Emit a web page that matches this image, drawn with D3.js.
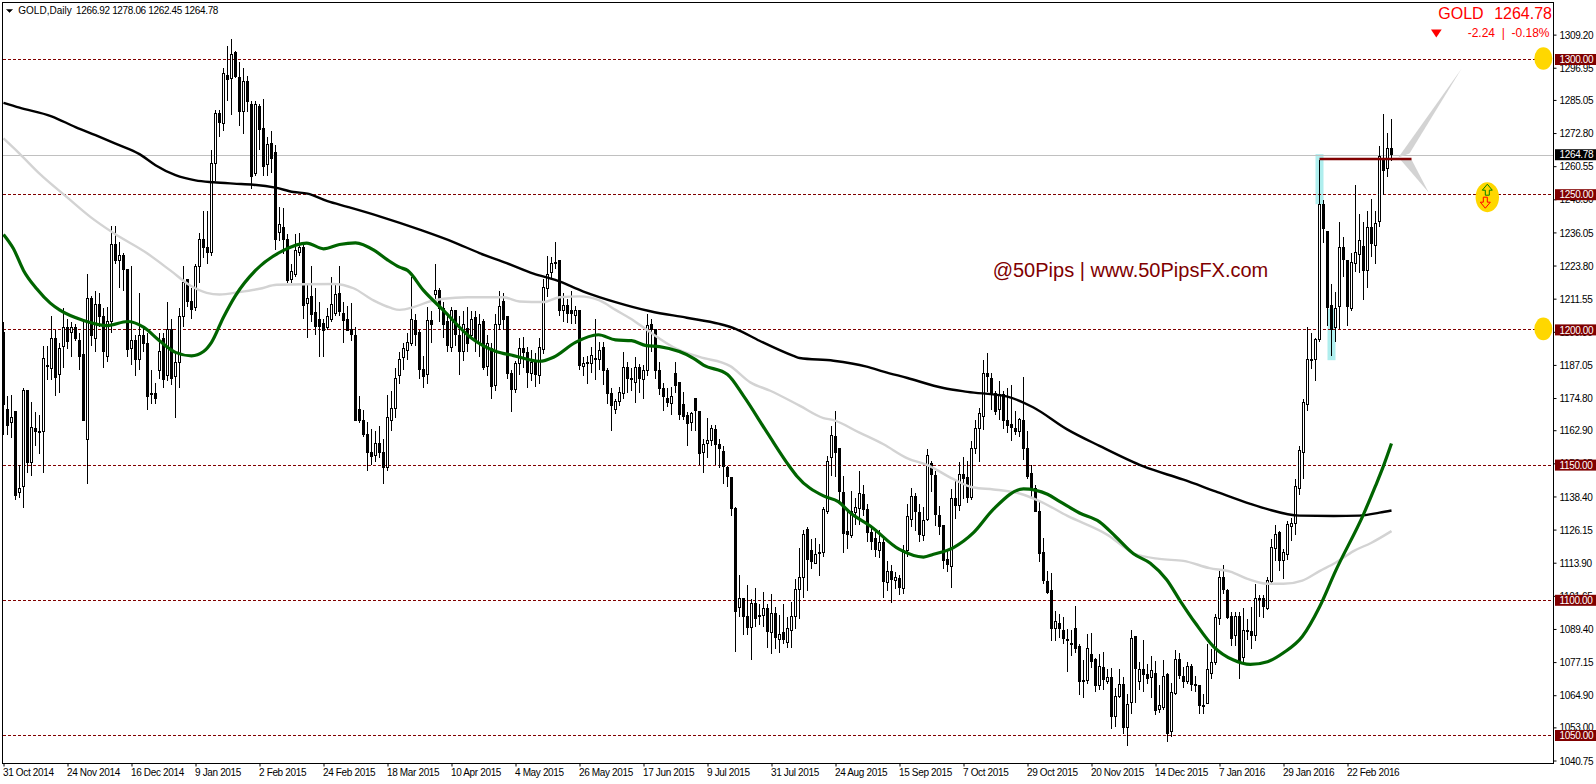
<!DOCTYPE html>
<html><head><meta charset="utf-8">
<script src="https://cdn.jsdelivr.net/npm/d3@7"></script>
<style>
html,body{margin:0;padding:0;background:#fff}
svg{display:block}
text{font-family:"Liberation Sans",Arial,sans-serif}
.axis text{font-size:10px;letter-spacing:-.35px;fill:#000}
</style></head><body><div id="chart"></div>
<script>
const opens=[1199,1170.5,1165.5,1170,1140,1142,1177.5,1151,1163.5,1162.5,
1162.5,1187,1186,1197,1183.5,1194,1201,1199,1201,1196,
1191,1159.5,1211.5,1197,1209.5,1205,1190,1203,1231.5,1225.5,
1227.5,1222.5,1193,1196,1189,1198,1195,1176.5,1176.5,1185,
1197,1183,1200,1183,1188,1205,1218.5,1210.5,1208.5,1223.5,
1233.5,1230.5,1228.5,1261.5,1280,1276.5,1294,1293,1302.5,1293.5,
1281,1292,1283.5,1258,1282.5,1274.5,1261,1269,1265.5,1236,
1238,1233.5,1218.5,1220.5,1228.5,1230.5,1209.5,1212.5,1206.5,1204,
1202.5,1201,1204,1206,1213.5,1206,1204,1200,1198,1170.5,
1166.5,1161.5,1154.5,1153.5,1158,1154.5,1149,1166.5,1171,1183,
1189.5,1192.5,1195,1203.5,1199,1185.5,1183.5,1203.5,1213,1214.5,
1208,1203,1193.5,1207,1198,1192,1200.5,1198,1204.5,1195,
1203,1186.5,1193,1179.5,1202,1210.5,1205,1184,1178,1187.5,
1193,1191.5,1184,1188.5,1183,1192.5,1215.5,1221,1224.5,1225.5,
1207,1209,1207,1205,1207,1186.5,1187.5,1187.5,1189,1189,
1193.5,1185,1176.5,1170.5,1173.5,1176.5,1186,1182,1180.5,1186,
1181.5,1185,1202,1200,1185,1178.5,1174.5,1173,1184,1180.5,
1172.5,1168.5,1165.5,1174.5,1170,1154.5,1158,1159,1163,1157.5,
1155,1149,1145.5,1134,1097,1100.5,1094,1090,1099,1094.5,
1094.5,1097,1088,1095,1085.5,1088,1084.5,1089,1094,1104,
1108.5,1126,1118.5,1113.5,1117.5,1117.5,1133,1153,1160.5,1156,
1140,1125.5,1124,1132.5,1134,1139,1133.5,1125,1123,1118.5,
1121.5,1106.5,1110.5,1107.5,1108,1104.5,1118.5,1130,1138.5,1132.5,
1124,1130,1150.5,1146,1131.5,1127.5,1115,1112.5,1137.5,1135,
1146.5,1145.5,1138,1156,1163.5,1168,1184,1182,1176.5,1170.5,
1176,1166.5,1165,1163.5,1162.5,1166.5,1156,1147,1141.5,1133,
1117.5,1107,1103.5,1089.5,1091.5,1089,1085.5,1084,1089.5,1083,
1070.5,1070,1080,1078,1068.5,1075,1070,1071.5,1057,1064.5,
1069,1053,1062.5,1086.5,1070,1074.5,1072.5,1071.5,1073,1059.5,
1060.5,1072.5,1051.5,1065.5,1078,1072,1070,1075.5,1068.5,1068.5,
1061,1062,1073,1077,1093.5,1108.5,1103.5,1094,1087,1094,
1079,1089,1088.5,1087,1100.5,1100.5,1097,1107,1119.5,1125,
1114.5,1117,1127.5,1128.5,1141.5,1154.5,1172.5,1188.5,1189,1196.5,
1246.5,1236.5,1209,1201,1208.5,1230.5,1225.5,1208,1224.5,1228,
1231,1222,1238,1231.5,1240,1263,1259.5,1266.92];
const highs=[1203,1175.5,1176,1170,1150,1178.5,1177.5,1173.5,1169.5,1168.5,
1194,1194,1205,1200,1195,1208,1204,1203,1202,1199,
1204,1220.5,1212.5,1214.5,1213.5,1208,1208.5,1238.5,1238.5,1232.5,
1228.5,1222.5,1223.5,1198,1213.5,1201,1199,1185,1180.5,1199,
1199,1210.5,1204,1191,1208,1223.5,1218.5,1215.5,1224.5,1236,
1244,1244,1266.5,1281.5,1281.5,1297,1305,1307.5,1303,1299,
1297,1294,1284.5,1284.5,1283.5,1285.5,1271.5,1273.5,1268.5,1245.5,
1245,1235.5,1224.5,1235.5,1236,1232.5,1216.5,1223.5,1215.5,1210.5,
1204,1208,1219.5,1217,1223.5,1210.5,1209,1210,1201,1175.5,
1170.5,1166,1163.5,1162.5,1164.5,1159.5,1176,1177.5,1186,1192,
1195,1199,1219.5,1206,1200,1190.5,1208.5,1207,1224.5,1215.5,
1210.5,1206,1208.5,1207.5,1205,1207,1208.5,1207,1207,1206,
1204,1198,1195,1206,1214.5,1213.5,1205,1185,1188.5,1197,
1197.5,1193.5,1192.5,1191.5,1197,1219,1227.5,1227,1232.5,1225.5,
1213.5,1211.5,1214.5,1209,1207,1190,1190.5,1193.5,1204,1195.5,
1195.5,1186,1178.5,1174.5,1179,1192,1188,1186,1190,1187.5,
1187,1206,1204,1200,1188,1180.5,1178.5,1179,1188,1180.5,
1177,1169.5,1169.5,1175,1170,1159.5,1167.5,1165,1165,1159.5,
1157,1149.5,1145.5,1134.5,1109.5,1101,1105.5,1100.5,1104.5,1098.5,
1103,1098.5,1102.5,1097.5,1094.5,1098.5,1094,1099.5,1108,1119.5,
1126,1127,1122.5,1123,1121,1134.5,1153.5,1164.5,1170,1156.5,
1146,1132.5,1140.5,1138,1148,1142.5,1135.5,1127.5,1126,1126,
1123,1114.5,1113,1110.5,1109.5,1120.5,1135.5,1141.5,1139.5,1135.5,
1134.5,1156,1151.5,1148,1135,1128,1118.5,1141,1145,1151,
1153,1151.5,1159,1166.5,1171,1189,1191.5,1184,1177.5,1181,
1177.5,1178.5,1179.5,1170,1167.5,1182.5,1162.5,1150,1142.5,1137,
1123,1111,1110,1096,1095,1094,1089.5,1089,1098,1084,
1078,1087.5,1088,1078.5,1080,1081,1074.5,1075,1067.5,1074.5,
1071.5,1065.5,1089,1086.5,1077,1085.5,1076.5,1079.5,1077.5,1068.5,
1078,1073,1069.5,1081.5,1080.5,1075.5,1077,1076.5,1072,1068.5,
1065.5,1084,1082,1095,1111,1113,1104,1095.5,1095.5,1095.5,
1097,1093,1097.5,1106,1102,1102,1108.5,1122.5,1128,1125.5,
1119,1129.5,1130.5,1145,1157,1174.5,1201,1199,1197,1263,
1248,1236.5,1217,1214,1240,1234.5,1226,1228.5,1253.5,1243,
1240,1244,1248.5,1244,1268,1280,1273,1278.06];
const lows=[1161,1161,1160,1137,1138,1134,1147,1146,1157,1154,
1147,1181.5,1181.5,1175.5,1176.5,1186,1193,1190,1196,1185,
1166.5,1143,1194,1192,1201,1186,1188,1199,1224.5,1215.5,
1214.5,1190,1187,1183,1185,1192,1170.5,1172.5,1172.5,1182,
1178.5,1181,1179.5,1167.5,1178.5,1201,1208.5,1204,1207,1217.5,
1226.5,1224.5,1227.5,1255,1271.5,1273.5,1284.5,1279.5,1293,1275.5,
1272.5,1280.5,1252,1257,1266.5,1257,1257,1258,1229.5,1233,
1228,1217.5,1217.5,1219.5,1227.5,1204,1197,1203,1198,1190,
1190,1200,1203,1205,1205,1195,1200,1196,1166.5,1165.5,
1160.5,1148,1150,1151,1152.5,1143,1148,1162.5,1167.5,1180,
1185,1189,1194,1194,1182,1178.5,1180,1195,1209.5,1203,
1197,1192,1192,1194,1183.5,1188.5,1192,1197,1192,1190,
1185,1183,1174.5,1177.5,1200,1200,1182,1169.5,1176.5,1183.5,
1186,1178.5,1181,1179,1180,1191,1212,1218.5,1222.5,1205,
1203,1202.5,1202,1202,1185,1183,1180,1184,1181.5,1185,
1179.5,1172.5,1162.5,1169,1172,1174.5,1176.5,1177.5,1173,1176.5,
1174.5,1183,1192,1182,1176,1170,1171.5,1168.5,1176.5,1166.5,
1166.5,1157,1162.5,1162.5,1150,1147,1152.5,1157,1150,1149,
1143,1142,1131,1081,1094,1087,1087,1078,1090,1091,
1090,1082.5,1080,1082,1080.5,1084,1082.5,1082.5,1089.5,1093,
1101,1103.5,1111.5,1113.5,1109,1116,1132,1146,1145.5,1136,
1117.5,1119,1123,1128,1128,1131,1121.5,1118.5,1116,1115.5,
1101,1103.5,1099,1104,1102,1102.5,1116,1127,1125.5,1121.5,
1122,1129.5,1140,1127.5,1124,1111.5,1110.5,1104.5,1130,1133,
1137.5,1136,1137,1154,1151,1163,1177,1170.5,1168.5,1166.5,
1163.5,1162,1159,1161,1160.5,1152,1145,1138,1132.5,1114,
1106,1102.5,1085,1085,1086,1084,1073.5,1079.5,1080.5,1065,
1064,1069,1075,1066,1067,1067,1069,1052.5,1053,1064,
1050.5,1046,1058,1062,1067,1066,1069,1064,1057.5,1058.5,
1059.5,1047.5,1049.5,1065,1071,1067.5,1069,1066.5,1066,1058,
1058,1062,1071,1076,1091,1102.5,1093,1083,1083,1071,
1076,1085.5,1082,1085,1094,1093.5,1096.5,1106.5,1114.5,1111,
1108,1115,1122,1124,1139,1145,1170,1185.5,1181,1195.5,
1232,1201.5,1190.5,1195.5,1200.5,1219.5,1201.5,1207,1221.5,1221,
1211,1215.5,1227,1224.5,1238,1250,1256.5,1262.45];
const closes=[1172.5,1164.5,1167.5,1139,1141.5,1177.5,1151,1164,1162.5,1162.5,
1189.5,1186.5,1197,1182.5,1193,1201,1196,1201,1197,1190,
1166.5,1211.5,1198,1209.5,1205,1192,1203,1231.5,1225.5,1227.5,
1222.5,1193,1196,1189,1198,1195,1175.5,1176.5,1174.5,1192,
1182,1200,1182,1188,1205,1217.5,1210.5,1207.5,1223.5,1233.5,
1230.5,1228.5,1261.5,1280,1276.5,1295,1292.5,1302,1293.5,1281,
1292,1284.5,1257,1283.5,1274,1260.5,1268.5,1263.5,1233.5,1239,
1233.5,1218.5,1221.5,1229.5,1230.5,1209,1211.5,1206,1201.5,1201.5,
1200,1205,1209.5,1213,1207,1203.5,1200,1198,1166.5,1166.5,
1161.5,1155,1153,1158,1154.5,1149,1167.5,1171,1182,1189,
1193,1195.5,1204,1198.5,1185.5,1183,1203.5,1202,1214.5,1208,
1202,1194,1207,1198,1192,1202,1195,1204,1196,1202,
1186,1195,1179,1202,1208.5,1204,1184,1178,1187.5,1193,
1191.5,1184,1188,1183.5,1193.5,1215.5,1220.5,1224.5,1225,1207,
1209,1206,1206,1207,1186.5,1187.5,1188,1190.5,1189.5,1192.5,
1185,1176.5,1172,1173.5,1177,1186,1182,1181.5,1186,1182,
1185,1201.5,1200,1185,1178.5,1175.5,1173,1175.5,1179.5,1168.5,
1168,1165.5,1169,1170,1154.5,1157.5,1159,1163.5,1157.5,1156,
1149.5,1145.5,1134,1096,1100.5,1094,1090,1099,1093.5,1094.5,
1097,1088.5,1095,1086,1087.5,1085.5,1089.5,1094,1104,1108.5,
1124.5,1115,1114.5,1117,1117.5,1133.5,1151.5,1161,1154.5,1140,
1125,1124.5,1133,1134.5,1139.5,1133.5,1125,1121.5,1119,1121.5,
1107,1110.5,1107.5,1108.5,1104.5,1118.5,1131,1138.5,1133,1124.5,
1129.5,1153.5,1146.5,1131.5,1127.5,1114.5,1113,1137.5,1135,1146.5,
1145,1138,1156,1163.5,1169,1184,1183,1176.5,1170,1176,
1166.5,1164.5,1164,1162.5,1167,1156,1145.5,1141.5,1133,1117.5,
1107,1103,1089.5,1092,1089.5,1086,1085,1084,1082,1070,
1070,1082,1077.5,1068.5,1075.5,1070.5,1071.5,1057,1064.5,1069,
1053,1061.5,1086,1074.5,1074.5,1072.5,1071,1074,1059.5,1061,
1072,1050.5,1066,1078,1072,1070,1075.5,1069,1069,1061,
1060.5,1074.5,1077,1093.5,1108.5,1104,1093.5,1086,1094,1077.5,
1089,1089,1087,1100.5,1100,1097.5,1107.5,1119.5,1124.5,1114.5,
1117.5,1128,1128.5,1142,1155.5,1173,1189,1189,1196.5,1246.5,
1237.5,1208.5,1200,1208,1230.5,1226,1208.5,1225,1228.5,1233,
1222,1238,1232,1239.5,1264,1259,1267,1264.78];

const black200Bars=[0,4,12,18,23,28,34,38,43,48,52.5,57.5,62.5,68,72.5,76,81,86,94,104.6,112.5,119,125.8,132.5,138.3,145,153,161.7,170.8,179,183,189,197.5,199,207.5,215.8,220,226,235,241,251,257.5,265.8,274,285,295,303,311.7,316,324,332.5,339,344,347];
const black200=[1284,1282.2,1279,1275,1272,1268.9,1265,1260.9,1257.2,1255.3,1254.6,1254.1,1253.7,1252.6,1251,1250.4,1247.6,1245.5,1242,1236.8,1232.5,1228.4,1224.7,1220.8,1218.3,1214.2,1210.3,1206.9,1204.5,1202.2,1200.4,1196,1190.4,1189.6,1188.6,1186.4,1184.6,1182.2,1178.5,1177.1,1175.3,1171.3,1163.3,1157.1,1149.5,1144.6,1140.3,1135.7,1133.7,1131.3,1131.2,1131.3,1132.4,1133.2];
const grey100Bars=[0,4,9,16,21.7,27.5,35.8,41.7,46.7,50.8,54,59,64,68.3,82.5,87.5,92.5,96.7,99,102.5,106.7,110,116,125,129,135,139,144,149,153,157.5,161.7,167.5,174,181.7,186.7,191.7,199,205,207.5,214,220,226,231,237.5,242.5,247.5,254,259,266,276,282.5,289,295,301.5,306.7,311,316,320,324.7,329,333,337.5,342,347];
const grey100=[1270.8,1265.2,1257.8,1248.9,1241.8,1235.8,1228.4,1222,1216.4,1213.7,1213.1,1214,1215.2,1216.7,1217,1215.4,1210.9,1208.2,1207.4,1208.4,1210.6,1211.5,1212.1,1212.1,1210.5,1210.3,1212.1,1212.4,1210.9,1207.4,1203.5,1199.1,1193.6,1190,1186.6,1180.6,1177.5,1172,1167.4,1166.6,1162,1157.7,1152.5,1150,1144.8,1141.7,1141,1139.5,1136.7,1131.2,1124.2,1117.4,1115.3,1114.6,1111.9,1110.6,1107.9,1106.1,1106.1,1107.3,1110.8,1113.9,1118.2,1121.3,1125.6];
const green50Bars=[0,2.5,5,8.3,11.7,14,20,26,31,35,39,43,47,50,52,55,58,63,70,75.8,80,84,88,93,96,99,101,105,110,116.7,123,127.5,134,137.5,143,148.7,153,157,160.7,164,172.5,175,181,185,191,196.7,198.3,205,208.7,211.7,216.7,224,230,232.5,237.5,242.5,247.5,255,261,264,269,274,278,282.5,286.7,290.8,294,298,302.5,307.5,311.7,316,320,324.7,329,333,340,343,345,347];
const green50=[1235.3,1230,1222,1215.2,1209.9,1207.4,1203.5,1201.6,1203.1,1201,1196,1191.7,1190.4,1192,1195.4,1204.7,1212.7,1222,1229.4,1232.1,1230,1231.6,1232.2,1229.1,1225.9,1223.2,1222,1214.6,1207.2,1197.3,1192.1,1190.5,1188.4,1189.9,1195.4,1198.2,1196.3,1196,1194.2,1193.8,1189.5,1187,1183.5,1175.6,1161.8,1149.1,1146,1138.6,1136.5,1132.4,1127.5,1118.8,1116,1117,1119.5,1125,1133.7,1141.2,1139.2,1136.6,1132.3,1129,1123.6,1117.2,1113.7,1107.6,1100.2,1091.5,1082.9,1077.9,1076.3,1077.3,1080.6,1086.6,1097.5,1110.8,1131.8,1142.3,1149.7,1158];

const dateLabels=["31 Oct 2014","24 Nov 2014","16 Dec 2014","9 Jan 2015","2 Feb 2015","24 Feb 2015","18 Mar 2015","10 Apr 2015","4 May 2015","26 May 2015","17 Jun 2015","9 Jul 2015","31 Jul 2015","24 Aug 2015","15 Sep 2015","7 Oct 2015","29 Oct 2015","20 Nov 2015","14 Dec 2015","7 Jan 2016","29 Jan 2016","22 Feb 2016"];
const priceTicks=[1309.2,1296.95,1285.05,1272.8,1260.55,1248.3,1236.05,1223.8,1211.55,1199.3,1187.05,1174.8,1162.9,1150.65,1138.4,1126.15,1113.9,1101.65,1089.4,1077.15,1064.9,1053,1040.75];
const levels=[1300,1250,1200,1150,1100,1050];
const lastPrice=1264.78;
const goldLevels=[1300,1200];

const W=1596,H=784,left=2.5,right=1553.5,top_=2.5,bottom=763.5;
const x=d3.scaleLinear().domain([0,1]).range([3.5,7.5]);
const y=d3.scaleLinear().domain([1300,1050]).range([59.5,735.5]);
const svg=d3.select("#chart").append("svg").attr("width",W).attr("height",H).attr("viewBox",`0 0 ${W} ${H}`);
const bars=d3.range(opens.length);

// highlight boxes behind the swing-high and swing-low candles
const highlights=[{bar:329,hi:1265,lo:1246.5},{bar:332,hi:1207.8,lo:1188.8}];
svg.append("g").selectAll("rect").data(highlights).join("rect")
  .attr("x",d=>x(d.bar)-4).attr("width",8)
  .attr("y",d=>y(d.hi)).attr("height",d=>y(d.lo)-y(d.hi)).attr("fill","#afeeee");

// current price line
svg.append("line").attr("x1",left).attr("x2",right).attr("y1",Math.round(y(lastPrice))+.5).attr("y2",Math.round(y(lastPrice))+.5).attr("stroke","#c0c0c0");

// horizontal levels
svg.append("g").attr("shape-rendering","crispEdges").selectAll("line").data(levels).join("line")
  .attr("x1",3).attr("x2",right).attr("y1",d=>y(d)).attr("y2",d=>y(d))
  .attr("stroke","#800000").attr("stroke-dasharray","3,2");

// grey fan
const fan=[[[348.7,1263.8],[364.5,1296.6],[351.5,1265.2]],[[349.2,1263],[356.3,1250.8],[352,1263]]];
svg.append("g").selectAll("path").data(fan).join("path")
  .attr("d",d=>d3.line().x(p=>x(p[0])).y(p=>y(p[1]))(d)+"Z").attr("fill","#d3d3d3");

// candles
const cg=svg.append("g").attr("shape-rendering","crispEdges");
cg.selectAll("line").data(bars).join("line")
  .attr("x1",i=>x(i)).attr("x2",i=>x(i)).attr("y1",i=>y(highs[i])).attr("y2",i=>y(lows[i]))
  .attr("stroke","#000");
cg.selectAll("rect").data(bars).join("rect")
  .each(function(i){
    const t=y(Math.max(opens[i],closes[i])),b=y(Math.min(opens[i],closes[i]));
    const up=closes[i]>=opens[i];
    const yT=Math.round(t-.5),hh=Math.max(1,Math.round(b-t));
    d3.select(this).attr("x",x(i)-1).attr("width",2).attr("y",yT+.5).attr("height",hh)
      .attr("fill",up?"#fff":"#000").attr("stroke","#000");
  });

// moving averages
const lineFor=(xs,vs)=>d3.line().x((_,k)=>x(xs[k])).y(v=>y(v)).curve(d3.curveMonotoneX)(vs);
svg.append("path").attr("d",lineFor(grey100Bars,grey100)).attr("fill","none").attr("stroke","#d3d3d3").attr("stroke-width",2.4);
svg.append("path").attr("d",lineFor(black200Bars,black200)).attr("fill","none").attr("stroke","#000").attr("stroke-width",2.4);
svg.append("path").attr("d",lineFor(green50Bars,green50)).attr("fill","none").attr("stroke","#006400").attr("stroke-width",3.2);

// dark red range line
svg.append("line").attr("x1",x(329)).attr("x2",1411.5).attr("y1",y(1263.2)).attr("y2",y(1263.2)).attr("stroke","#800000").attr("stroke-width",2.4);

// frame
svg.append("rect").attr("x",left).attr("y",top_).attr("width",right-left).attr("height",bottom-top_).attr("fill","none").attr("stroke","#000").attr("shape-rendering","crispEdges");

// axes
const xAxis=d3.axisBottom(x).tickValues(dateLabels.map((_,k)=>k*16)).tickFormat((_,k)=>dateLabels[k]).tickSize(3).tickPadding(2);
const gx=svg.append("g").attr("class","axis").attr("transform",`translate(0,${bottom})`).call(xAxis);
gx.select(".domain").remove();
gx.selectAll("text").attr("text-anchor","start").attr("x",-1).attr("y",4).attr("dy","8.6px");
gx.selectAll("line").attr("stroke","#000");
const yAxis=d3.axisRight(y).tickValues(priceTicks).tickFormat(d3.format(".2f")).tickSize(3).tickPadding(2);
const gy=svg.append("g").attr("class","axis").attr("transform",`translate(${right},0)`).call(yAxis);
gy.select(".domain").remove();
gy.selectAll("text").attr("x",6).attr("dy","3.6px");
gy.selectAll("line").attr("stroke","#000");

// price labels
const tag=(v,fill)=>{
  const g=svg.append("g");
  g.append("rect").attr("x",1555).attr("y",y(v)-5.5).attr("width",41).attr("height",11).attr("fill",fill);
  g.append("text").attr("x",1559.5).attr("y",y(v)+3.6).attr("fill","#fff").attr("font-size",10).style("letter-spacing","-.35px").text(v.toFixed(2));
};
levels.forEach(v=>tag(v,"#800000"));
tag(lastPrice,"#000");

// gold markers
svg.append("g").selectAll("ellipse").data(goldLevels).join("ellipse")
  .attr("cx",1543.3).attr("cy",d=>y(d)-1).attr("rx",9).attr("ry",11.3).attr("fill","#ffd700");
const ax=1487.3,ay=y(1250)+2.5;
svg.append("ellipse").attr("cx",ax).attr("cy",ay).attr("rx",11.7).attr("ry",15).attr("fill","#ffd700");
const upArrow=d3.path();
upArrow.moveTo(ax,ay-13);upArrow.lineTo(ax+5,ay-7);upArrow.lineTo(ax+2,ay-7);upArrow.lineTo(ax+2,ay-2);upArrow.lineTo(ax-2,ay-2);upArrow.lineTo(ax-2,ay-7);upArrow.lineTo(ax-5,ay-7);upArrow.closePath();
svg.append("path").attr("d",upArrow.toString()).attr("fill","none").attr("stroke","#008000");
const dx=ax-2,dnArrow=d3.path();
dnArrow.moveTo(dx-2,ay);dnArrow.lineTo(dx+2,ay);dnArrow.lineTo(dx+2,ay+5);dnArrow.lineTo(dx+5,ay+5);dnArrow.lineTo(dx,ay+11);dnArrow.lineTo(dx-5,ay+5);dnArrow.lineTo(dx-2,ay+5);dnArrow.closePath();
svg.append("path").attr("d",dnArrow.toString()).attr("fill","none").attr("stroke","#ff0000");

// header
svg.append("path").attr("d","M6.5,9.5L12.5,9.5L9.5,12.5Z").attr("fill","#000").attr("stroke","#000").attr("stroke-width",.5);
svg.append("text").attr("x",18.3).attr("y",14).attr("font-size",10).attr("fill","#000").text("GOLD,Daily");
svg.append("text").attr("x",76).attr("y",14).attr("font-size",10).attr("fill","#000").style("letter-spacing","-.35px").text("1266.92 1278.06 1262.45 1264.78");

// top right quote
svg.append("text").attr("x",1438.3).attr("y",19.3).attr("font-size",16).attr("fill","#ff0000").text("GOLD");
svg.append("text").attr("x",1552).attr("y",19.3).attr("font-size",16).attr("text-anchor","end").attr("fill","#ff0000").text("1264.78");
svg.append("path").attr("d","M1431,29.5L1441.7,29.5L1436.3,37.5Z").attr("fill","#ff0000");
svg.append("text").attr("x",1549.5).attr("y",36.7).attr("font-size",12).attr("text-anchor","end").attr("fill","#ff0000").style("white-space","pre").text("-2.24  |  -0.18%");

// watermark
svg.append("text").attr("x",992.7).attr("y",277.3).attr("font-size",20).attr("fill","#800000").text("@50Pips | www.50PipsFX.com");
</script></body></html>
